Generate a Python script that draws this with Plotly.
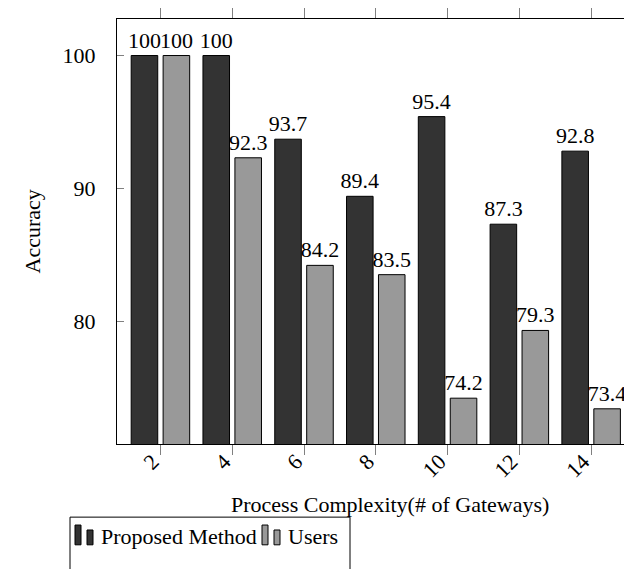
import plotly.graph_objects as go

# ---- data ----
complexity = [2, 4, 6, 8, 10, 12, 14]
proposed = [100, 100, 93.7, 89.4, 95.4, 87.3, 92.8]
users = [100, 92.3, 84.2, 83.5, 74.2, 79.3, 73.4]
series_names = ["Proposed Method", "Users"]
y_ticks = [80, 90, 100]

# ---- geometry helpers (pixel -> paper) ----
W, H = 644, 569          # page window is 624 wide; plot runs past the right edge like the reference
L, R, T, B = 117, 636, 14, 444
def px(x):
    return (x - L) / (R - L)
def py(y):
    return (B - y) / (B - T)

FONT = "Liberation Serif"
DARK, LIGHT = "#333333", "#999999"
FS = 22

fig = go.Figure()
for vals, name, col, off in [(proposed, series_names[0], DARK, -0.815),
                             (users, series_names[1], LIGHT, 0.075)]:
    fig.add_trace(go.Bar(
        x=complexity, y=vals, name=name, base=0,
        width=0.74, offset=off,
        marker=dict(color=col, line=dict(color="black", width=1)),
        text=[f"{v:g}" for v in vals], textposition="outside",
        textfont=dict(family=FONT, size=FS, color="black"),
        constraintext="none", cliponaxis=False, showlegend=False,
    ))

fig.update_layout(
    width=W, height=H, barmode="overlay",
    margin=dict(l=L, r=W - R, t=T, b=H - B, pad=0),
    paper_bgcolor="white", plot_bgcolor="white",
    font=dict(family=FONT, size=FS, color="black"),
    showlegend=False,
)
fig.update_xaxes(
    range=[0.79, 15.25], tickvals=complexity, ticktext=[str(c) for c in complexity],
    tickangle=-45, ticks="outside", ticklen=10, tickcolor="#808080",
    showline=True, linecolor="black", linewidth=1, mirror="allticks",
    showgrid=False, zeroline=False, ticklabelstandoff=-15, ticklabelshift=-8,
    tickfont=dict(family=FONT, size=FS),
)
fig.update_yaxes(
    range=[70.75, 102.75], tickvals=y_ticks, ticks="inside", ticklen=7,
    tickcolor="#808080", showline=True, linecolor="black", linewidth=1,
    mirror=False, showgrid=False, zeroline=False, ticklabelstandoff=16,
    tickfont=dict(family=FONT, size=FS),
)

# axis titles
fig.add_annotation(text="Accuracy", xref="paper", yref="paper",
                   x=px(32), y=py(229), textangle=-90, showarrow=False,
                   xanchor="center", yanchor="middle",
                   font=dict(family=FONT, size=FS))
fig.add_annotation(text="Process Complexity(# of Gateways)", xref="paper", yref="paper",
                   x=px(390), y=py(505), showarrow=False,
                   xanchor="center", yanchor="middle",
                   font=dict(family=FONT, size=FS))

# legend (drawn manually to mimic pgfplots ybar legend)
shapes = [dict(type="rect", xref="paper", yref="paper",
               x0=px(70), x1=px(350), y0=py(580), y1=py(518),
               line=dict(color="black", width=1), fillcolor="white")]
legend_items = [(DARK, series_names[0], 75, 99), (LIGHT, series_names[1], 262, 286)]
for col, name, sx, tx in legend_items:
    shapes.append(dict(type="rect", xref="paper", yref="paper",
                       x0=px(sx), x1=px(sx + 6), y0=py(546), y1=py(526),
                       line=dict(color="black", width=1), fillcolor=col))
    shapes.append(dict(type="rect", xref="paper", yref="paper",
                       x0=px(sx + 12), x1=px(sx + 18), y0=py(546), y1=py(531),
                       line=dict(color="black", width=1), fillcolor=col))
    fig.add_annotation(text=name, xref="paper", yref="paper",
                       x=px(tx), y=py(538), xanchor="left", yanchor="middle",
                       showarrow=False, font=dict(family=FONT, size=FS))
fig.update_layout(shapes=shapes)

fig.write_html("out.html", config={"displayModeBar": False},
               post_script="document.body.style.margin='0';document.body.style.overflow='hidden';")
